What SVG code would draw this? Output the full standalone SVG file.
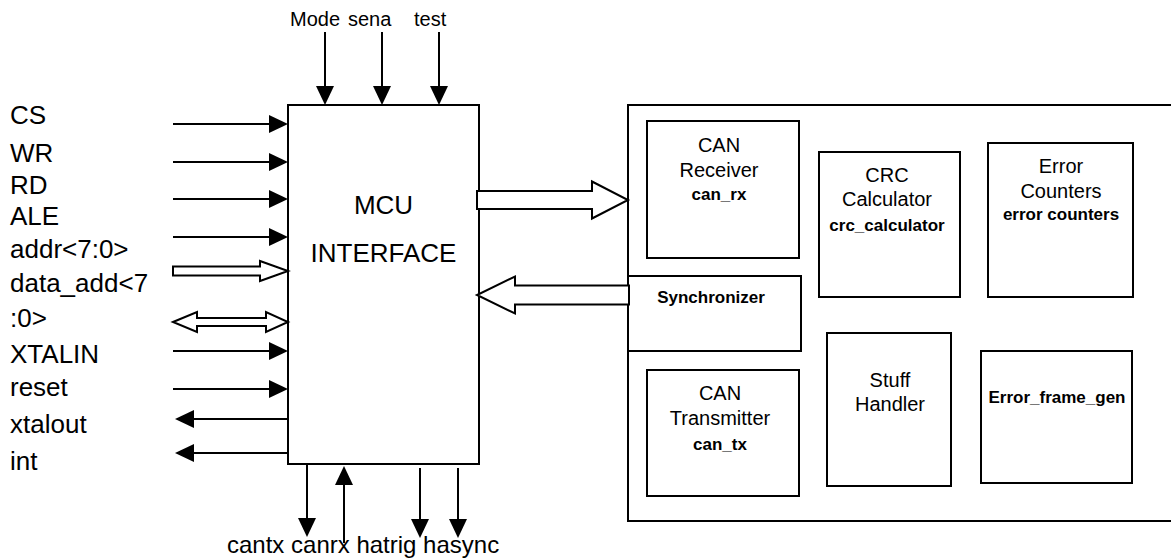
<svg xmlns="http://www.w3.org/2000/svg" width="1171" height="560" viewBox="0 0 1171 560">
<style>
  .box { fill: #fff; stroke: #000; stroke-width: 2; }
  .wire { stroke: #000; stroke-width: 2; fill: none; }
  .hollow { fill: #fff; stroke: #000; stroke-width: 2; stroke-linejoin: miter; }
  .pin { font-family: "Liberation Sans", Arial, sans-serif; font-size: 26px; fill: #000; }
  .top { font-family: "Liberation Sans", Arial, sans-serif; font-size: 20px; fill: #000; }
  .bot { font-family: "Liberation Sans", Arial, sans-serif; font-size: 24px; fill: #000; }
  .big { font-family: "Liberation Sans", Arial, sans-serif; font-size: 26px; fill: #000; text-anchor: middle; }
  .blk { font-family: "Liberation Sans", Arial, sans-serif; font-size: 20px; fill: #000; text-anchor: middle; }
  .bold { font-family: "Liberation Sans", Arial, sans-serif; font-size: 17px; font-weight: bold; fill: #000; text-anchor: middle; }
</style>
<defs>
  <marker id="ah" markerUnits="userSpaceOnUse" markerWidth="20" markerHeight="20" refX="0" refY="9" orient="auto" overflow="visible">
    <path d="M0,0 L19,9 L0,18 Z" fill="#000"/>
  </marker>
</defs>
<rect width="1171" height="560" fill="#fff"/>

<g id="can-core">
  <rect class="box" x="628" y="105" width="600" height="416"/>
</g>
<g id="can-receiver">
  <rect class="box" x="647" y="121" width="152" height="137"/>
  <text class="blk" x="719" y="152">CAN</text>
  <text class="blk" x="719" y="177">Receiver</text>
  <text class="bold" x="719" y="200">can_rx</text>
</g>
<g id="crc-calculator">
  <rect class="box" x="819" y="152" width="141" height="145"/>
  <text class="blk" x="887" y="182">CRC</text>
  <text class="blk" x="887" y="206">Calculator</text>
  <text class="bold" x="887" y="231">crc_calculator</text>
</g>
<g id="error-counters">
  <rect class="box" x="988" y="143" width="145" height="154"/>
  <text class="blk" x="1061" y="173">Error</text>
  <text class="blk" x="1061" y="198">Counters</text>
  <text class="bold" x="1061" y="220">error counters</text>
</g>
<g id="synchronizer">
  <rect class="box" x="628" y="276" width="173" height="75"/>
  <text class="bold" x="711" y="303">Synchronizer</text>
</g>
<g id="can-transmitter">
  <rect class="box" x="647" y="370" width="152" height="126"/>
  <text class="blk" x="720" y="400">CAN</text>
  <text class="blk" x="720" y="425">Transmitter</text>
  <text class="bold" x="720" y="450">can_tx</text>
</g>
<g id="stuff-handler">
  <rect class="box" x="827" y="333" width="124" height="153"/>
  <text class="blk" x="890" y="387">Stuff</text>
  <text class="blk" x="890" y="411">Handler</text>
</g>
<g id="error-frame-gen">
  <rect class="box" x="981" y="351" width="151" height="132"/>
  <text class="bold" x="1057" y="403">Error_frame_gen</text>
</g>

<g id="mcu-interface">
  <rect class="box" x="288" y="105" width="191" height="359"/>
  <text class="big" x="383.5" y="214">MCU</text>
  <text class="big" x="383.5" y="262">INTERFACE</text>
</g>

<g id="pin-labels">
  <text class="pin" x="10" y="124">CS</text>
  <text class="pin" x="10" y="161.5">WR</text>
  <text class="pin" x="10" y="194">RD</text>
  <text class="pin" x="10" y="225">ALE</text>
  <text class="pin" x="10" y="258">addr&lt;7:0&gt;</text>
  <text class="pin" x="10" y="291.5">data_add&lt;7</text>
  <text class="pin" x="10" y="326.5">:0&gt;</text>
  <text class="pin" x="10" y="363">XTALIN</text>
  <text class="pin" x="10" y="396">reset</text>
  <text class="pin" x="10" y="433">xtalout</text>
  <text class="pin" x="10" y="470">int</text>
  <text class="top" x="290" y="26">Mode</text>
  <text class="top" x="348" y="26">sena</text>
  <text class="top" x="414" y="26">test</text>
  <text class="bot" x="227" y="553">cantx canrx hatrig hasync</text>
</g>

<g id="connectors">
  <line class="wire" x1="173" y1="124" x2="269" y2="124" marker-end="url(#ah)"/>
  <line class="wire" x1="173" y1="162" x2="269" y2="162" marker-end="url(#ah)"/>
  <line class="wire" x1="173" y1="199" x2="269" y2="199" marker-end="url(#ah)"/>
  <line class="wire" x1="173" y1="237" x2="269" y2="237" marker-end="url(#ah)"/>
  <polygon class="hollow" points="173,266.5 260,266.5 260,261 288,271 260,281 260,275.5 173,275.5"/>
  <polygon class="hollow" points="173,322 197,312 197,318 266,318 266,312 288,322 266,332 266,326 197,326 197,332"/>
  <line class="wire" x1="173" y1="351" x2="269" y2="351" marker-end="url(#ah)"/>
  <line class="wire" x1="173" y1="389" x2="269" y2="389" marker-end="url(#ah)"/>
  <line class="wire" x1="288" y1="419" x2="194" y2="419" marker-end="url(#ah)"/>
  <line class="wire" x1="288" y1="453" x2="194" y2="453" marker-end="url(#ah)"/>

  <line class="wire" x1="325" y1="32" x2="325" y2="86" marker-end="url(#ah)"/>
  <line class="wire" x1="382" y1="32" x2="382" y2="86" marker-end="url(#ah)"/>
  <line class="wire" x1="439" y1="32" x2="439" y2="86" marker-end="url(#ah)"/>

  <line class="wire" x1="307" y1="464" x2="307" y2="518" marker-end="url(#ah)"/>
  <line class="wire" x1="344" y1="543" x2="344" y2="485" marker-end="url(#ah)"/>
  <line class="wire" x1="420" y1="468" x2="420" y2="519" marker-end="url(#ah)"/>
  <line class="wire" x1="458" y1="468" x2="458" y2="519" marker-end="url(#ah)"/>

  <polygon class="hollow" points="477,191 592,191 592,181.5 628,200 592,218.5 592,209 477,209"/>
  <polygon class="hollow" points="629,285.5 515,285.5 515,276.5 477,295 515,313.5 515,304.5 629,304.5"/>
</g>
</svg>
